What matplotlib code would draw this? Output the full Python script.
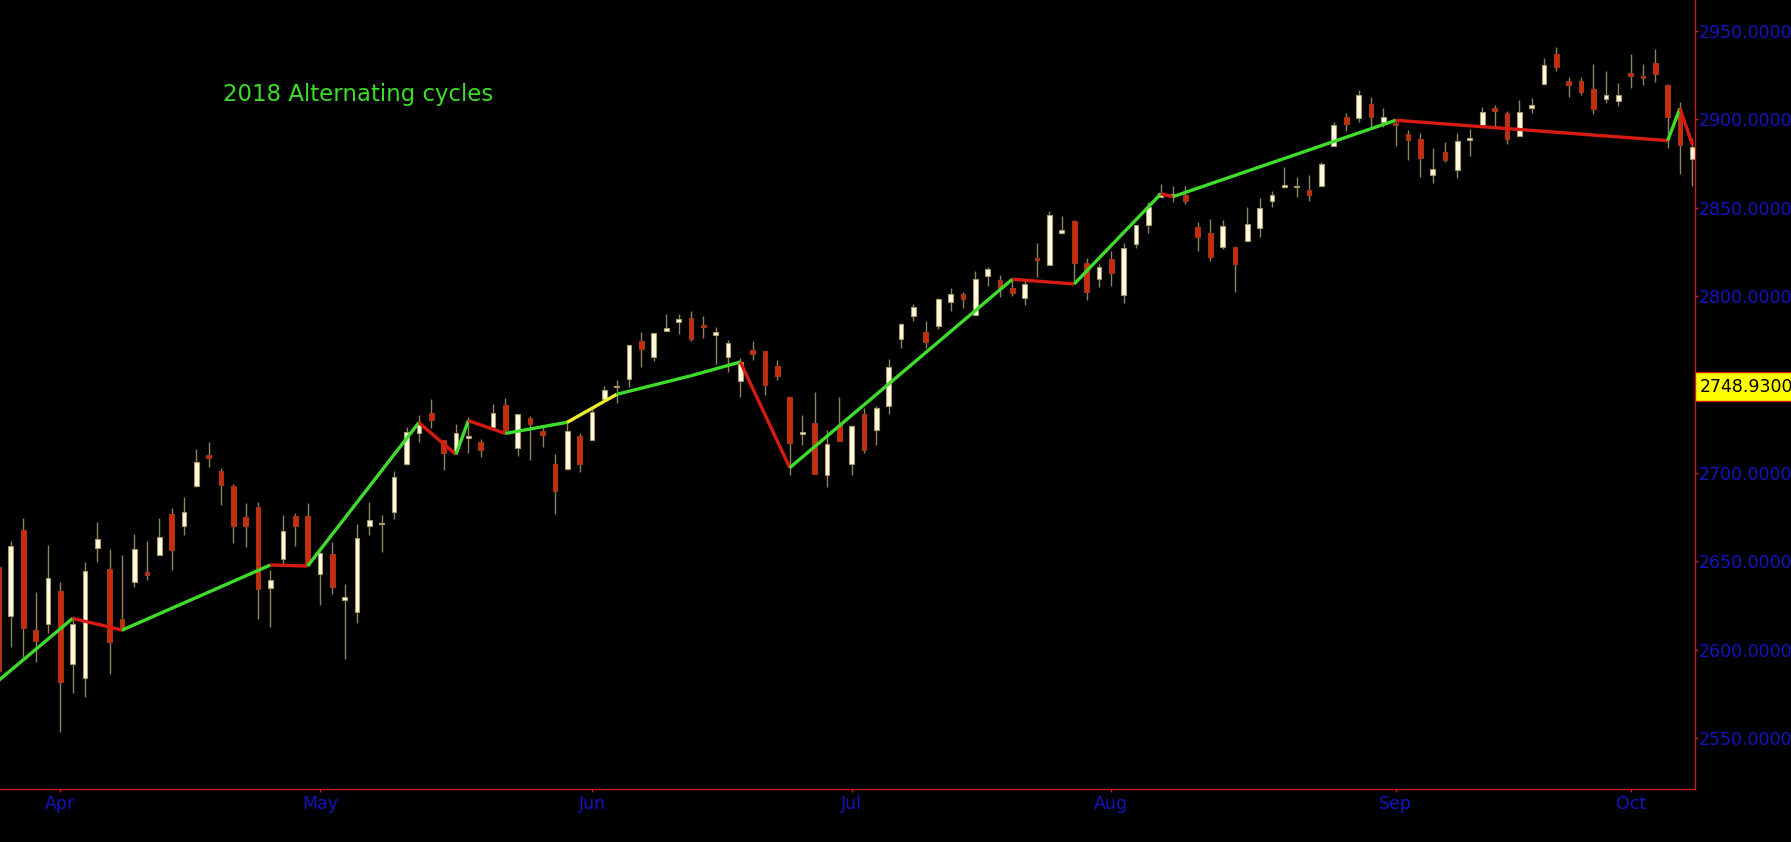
import numpy as np
import pandas as pd
import matplotlib
matplotlib.use("Agg")
import matplotlib.pyplot as plt
import matplotlib.transforms as mtransforms

# S&P 500 daily bars, 23 Mar 2018 - 8 Oct 2018 (market holidays removed)
holidays = ["2018-03-30", "2018-05-28", "2018-07-04", "2018-09-03"]
dates = pd.bdate_range("2018-03-23", "2018-10-08")
dates = dates[~dates.isin(pd.to_datetime(holidays))]

opens = [
    2646.71, 2619.35, 2667.57, 2611.30, 2614.41,
    2633.45, 2592.17, 2584.04, 2657.36, 2645.82, 2617.18, 2638.41, 2643.77, 2653.83, 2676.90,
    2670.10, 2692.74, 2710.11, 2701.16, 2692.56, 2675.40, 2680.80, 2634.92, 2651.65, 2675.47, 2675.50,
    2642.96, 2654.24, 2628.08, 2621.45, 2670.00, 2671.00, 2678.12, 2705.02, 2722.70, 2734.00, 2718.59,
    2712.62, 2719.71, 2717.35, 2726.20, 2738.34, 2713.98, 2730.94, 2723.60, 2705.11, 2702.43, 2720.98,
    2718.70, 2741.67, 2748.46, 2753.25, 2774.84, 2765.84, 2780.18, 2785.60, 2787.94, 2783.21, 2777.78,
    2765.79, 2752.01, 2769.73, 2769.28, 2760.79, 2742.94, 2722.12, 2728.45, 2698.69, 2727.13,
    2704.95, 2733.27, 2724.19, 2737.68, 2775.62, 2788.56, 2779.82, 2783.14, 2796.93, 2801.30, 2789.34,
    2811.35, 2809.37, 2804.55, 2799.17, 2820.68, 2817.73, 2835.49, 2842.35, 2819.00, 2809.73,
    2821.17, 2800.48, 2829.62, 2840.29, 2855.92, 2856.79, 2857.19, 2838.90, 2835.46, 2827.88, 2827.95,
    2831.44, 2838.32, 2853.93, 2861.51, 2861.50, 2860.29, 2862.35, 2884.69, 2901.45, 2900.62, 2908.94,
    2898.37,
    2896.96, 2891.59, 2888.64, 2868.26, 2881.39, 2871.57, 2888.29, 2896.85, 2906.38, 2903.83, 2890.74,
    2906.60, 2919.73, 2936.76, 2921.83, 2921.75, 2916.98, 2911.65, 2910.63,
    2926.29, 2923.80, 2931.69, 2919.35, 2902.54, 2877.53,
]
highs = [
    2657.67, 2661.36, 2674.78, 2632.65, 2659.07,
    2638.30, 2619.14, 2649.86, 2672.08, 2656.88, 2653.55, 2665.45, 2661.43, 2674.72, 2680.26,
    2686.49, 2713.34, 2717.49, 2702.84, 2693.94, 2682.86, 2683.55, 2645.30, 2676.48, 2677.35, 2682.87,
    2655.27, 2660.87, 2637.14, 2670.93, 2683.35, 2676.34, 2701.27, 2726.11, 2732.86, 2742.10, 2718.59,
    2727.76, 2731.96, 2719.50, 2739.19, 2742.24, 2733.33, 2731.97, 2727.36, 2710.67, 2729.34, 2722.50,
    2736.93, 2749.16, 2752.61, 2772.39, 2779.90, 2779.39, 2790.21, 2789.80, 2791.47, 2789.06, 2782.81,
    2774.99, 2765.05, 2774.86, 2769.28, 2764.17, 2742.94, 2732.91, 2746.09, 2724.34, 2743.26,
    2727.26, 2736.58, 2737.83, 2764.41, 2784.65, 2795.58, 2785.91, 2799.22, 2804.53, 2802.50, 2814.19,
    2816.76, 2812.05, 2809.70, 2808.61, 2829.99, 2848.03, 2845.57, 2843.17, 2821.74, 2818.37,
    2825.83, 2829.91, 2840.38, 2853.29, 2863.43, 2862.44, 2862.48, 2842.20, 2843.40, 2843.11, 2827.95,
    2850.49, 2855.63, 2859.76, 2873.23, 2867.54, 2868.78, 2876.16, 2898.25, 2903.77, 2916.50, 2912.46,
    2906.32,
    2900.18, 2894.21, 2892.05, 2883.81, 2886.93, 2892.52, 2894.65, 2906.76, 2908.30, 2904.65, 2911.17,
    2912.36, 2934.80, 2940.91, 2923.79, 2923.95, 2931.15, 2927.22, 2920.53,
    2937.06, 2931.42, 2939.86, 2919.78, 2909.64, 2889.45,
]
lows = [
    2585.89, 2601.81, 2596.12, 2593.06, 2609.72,
    2553.80, 2575.49, 2573.61, 2649.58, 2586.27, 2610.79, 2635.78, 2639.25, 2653.83, 2645.05,
    2665.16, 2692.05, 2703.63, 2681.90, 2660.61, 2657.99, 2617.32, 2612.67, 2647.16, 2659.01, 2648.04,
    2625.41, 2631.70, 2594.62, 2615.32, 2664.70, 2655.20, 2674.14, 2704.54, 2717.45, 2725.47, 2701.91,
    2712.17, 2711.36, 2709.18, 2725.70, 2721.88, 2709.54, 2707.38, 2714.99, 2676.81, 2702.43, 2700.68,
    2718.70, 2740.54, 2739.51, 2748.46, 2760.16, 2763.59, 2780.17, 2778.78, 2774.65, 2776.52, 2761.73,
    2757.12, 2743.19, 2763.91, 2744.39, 2752.68, 2698.67, 2715.60, 2699.38, 2691.99, 2718.03,
    2698.95, 2711.16, 2716.02, 2733.52, 2770.73, 2786.24, 2770.77, 2781.53, 2791.69, 2793.39, 2789.24,
    2805.89, 2799.77, 2800.01, 2795.14, 2811.12, 2817.73, 2835.26, 2808.34, 2798.11, 2805.04,
    2805.85, 2796.34, 2827.37, 2835.98, 2855.92, 2853.09, 2851.98, 2825.81, 2819.88, 2826.58, 2802.49,
    2831.44, 2833.73, 2850.62, 2861.32, 2856.05, 2854.03, 2862.35, 2884.69, 2893.50, 2898.40, 2895.22,
    2895.77,
    2885.13, 2876.92, 2867.29, 2864.12, 2875.94, 2866.78, 2879.20, 2896.39, 2895.77, 2886.16, 2890.43,
    2903.82, 2919.73, 2927.11, 2912.63, 2913.70, 2903.28, 2909.27, 2907.50,
    2917.91, 2919.37, 2921.36, 2883.92, 2869.29, 2862.08,
]
closes = [
    2588.26, 2658.55, 2612.62, 2605.00, 2640.87,
    2581.88, 2614.45, 2644.69, 2662.84, 2604.47, 2613.16, 2656.87, 2642.19, 2663.99, 2656.30,
    2677.84, 2706.39, 2708.64, 2693.13, 2670.14, 2670.29, 2634.56, 2639.40, 2666.94, 2669.91, 2648.05,
    2654.80, 2635.67, 2629.73, 2663.42, 2673.20, 2671.92, 2697.79, 2723.07, 2727.72, 2730.13, 2711.45,
    2722.46, 2720.13, 2712.97, 2733.80, 2724.44, 2733.29, 2727.76, 2721.33, 2689.86, 2724.01, 2705.27,
    2734.62, 2746.87, 2748.80, 2772.35, 2770.37, 2779.03, 2782.00, 2786.85, 2775.63, 2782.49, 2779.66,
    2773.75, 2762.59, 2767.32, 2749.76, 2754.88, 2717.07, 2723.06, 2699.63, 2716.31, 2718.37,
    2726.71, 2713.22, 2736.61, 2759.82, 2784.17, 2793.84, 2774.02, 2798.29, 2801.31, 2798.43, 2809.55,
    2815.62, 2804.49, 2801.83, 2806.98, 2820.40, 2846.07, 2837.44, 2818.82, 2802.60, 2816.29,
    2813.36, 2827.22, 2840.35, 2850.40, 2858.45, 2857.70, 2853.58, 2833.28, 2821.93, 2839.96, 2818.37,
    2840.69, 2850.13, 2857.05, 2862.96, 2862.00, 2856.98, 2874.69, 2896.74, 2897.52, 2914.04, 2901.13,
    2901.52,
    2896.72, 2888.60, 2878.05, 2871.68, 2877.13, 2887.89, 2888.92, 2904.18, 2904.98, 2888.80, 2904.31,
    2907.95, 2930.75, 2929.67, 2919.37, 2915.56, 2905.97, 2914.00, 2913.98,
    2924.59, 2923.43, 2925.51, 2901.61, 2885.57, 2884.43,
]

# the "alternating cycles" line: turning points and the colour of each leg
cycle_dates = [
    "2018-03-23", "2018-04-03", "2018-04-09", "2018-04-25", "2018-04-30", "2018-05-11",
    "2018-05-16", "2018-05-17", "2018-05-22", "2018-05-30", "2018-06-05", "2018-06-13",
    "2018-06-19", "2018-06-25", "2018-07-20", "2018-07-27", "2018-08-07", "2018-08-08",
    "2018-09-04", "2018-10-04", "2018-10-05", "2018-10-08",
]
cycle_prices = [
    2582.6, 2617.8, 2611.2, 2648.0, 2647.4, 2728.5,
    2710.5, 2729.6, 2722.4, 2728.7, 2744.5, 2755.0,
    2762.8, 2703.0, 2809.6, 2806.9, 2857.8, 2856.3,
    2899.5, 2888.0, 2906.3, 2885.5,
]
cycle_colors = [
    "up", "down", "up", "down", "up", "down", "up", "down", "up", "mid", "up",
    "up", "down", "up", "down", "up", "down", "up", "down", "up", "down",
]

price_ticks = [2550, 2600, 2650, 2700, 2800, 2850, 2900, 2950]
last_price = 2748.93
title = "2018 Alternating cycles"

leg_colors = {"up": "#3fdc2c", "down": "#d81a14", "mid": "#eeee30"}
axis_red = "#c81e1e"
label_blue = "#1414c0"

x = np.arange(len(dates))
o = np.array(opens)
h = np.array(highs)
l = np.array(lows)
c = np.array(closes)
up = c >= o

fig = plt.figure(figsize=(17.91, 8.42), dpi=100, facecolor="black")
ax = fig.add_axes([0.0, 0.0629, 1695 / 1791, 1 - 0.0629], facecolor="black")

# wicks
ax.vlines(x, l, h, color="#8c8462", lw=1.0, zorder=1)
# bodies
body_low = np.minimum(o, c)
body_h = np.maximum(np.abs(c - o), 1.0)
ax.bar(x[up], body_h[up], bottom=body_low[up], width=0.38,
       color="#fffbe2", edgecolor="#a89a68", linewidth=0.8, zorder=2)
ax.bar(x[~up], body_h[~up], bottom=body_low[~up], width=0.38,
       color="#d02a0c", edgecolor="#9a3a1a", linewidth=0.8, zorder=2)

# cycle legs
pos = {d.strftime("%Y-%m-%d"): i for i, d in enumerate(dates)}
cx = [pos[d] for d in cycle_dates]
for k, kind in enumerate(cycle_colors):
    ax.plot(cx[k:k + 2], cycle_prices[k:k + 2], color=leg_colors[kind],
            lw=2.4, solid_capstyle="butt", zorder=3)

ax.set_xlim(0.123, 137.21)
ax.set_ylim(2521.3, 2967.5)

for side in ["top", "left"]:
    ax.spines[side].set_visible(False)
for side in ["right", "bottom"]:
    ax.spines[side].set_color(axis_red)
    ax.spines[side].set_linewidth(1.0)

# month labels at first trading day of each month
month_idx = [i for i in range(1, len(dates)) if dates[i].month != dates[i - 1].month]
ax.set_xticks(month_idx)
ax.set_xticklabels([dates[i].strftime("%b") for i in month_idx])
ax.tick_params(axis="x", colors=axis_red, labelcolor=label_blue, length=2.0,
               width=1.0, pad=2.5, labelsize=12.5)

ax.yaxis.tick_right()
ax.set_yticks(price_ticks)
ax.set_yticklabels(["%.4f" % p for p in price_ticks])
ax.tick_params(axis="y", colors=axis_red, labelcolor=label_blue, length=2.0,
               width=1.0, pad=1.0, labelsize=12.5)

# last price box on the price scale, left edge on the axis line
box_pad = 0.3
trans = mtransforms.blended_transform_factory(ax.transAxes, ax.transData)
trans = mtransforms.offset_copy(trans, fig=fig, x=box_pad * 12.5, y=0, units="points")
ax.text(1.0, last_price, "%.4f" % last_price, transform=trans, ha="left",
        va="center", fontsize=12.5, color="black", clip_on=False, zorder=5,
        bbox=dict(boxstyle="square,pad=%g" % box_pad, fc="#ffff00", ec=axis_red, lw=1.0))

fig.text(222.7 / 1791, 1 - 94 / 842, title, color="#3ddc2a", fontsize=16.5,
         ha="left", va="center")

fig.savefig("out.png", dpi=100, facecolor="black")
